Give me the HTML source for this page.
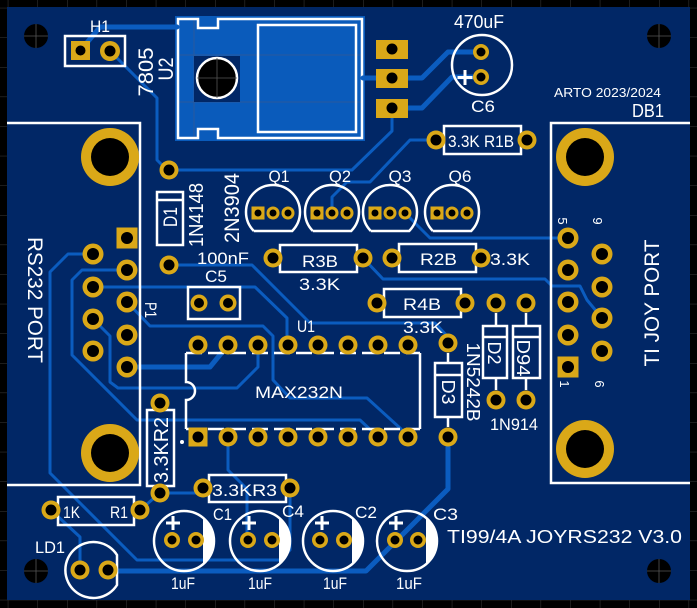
<!DOCTYPE html>
<html>
<head>
<meta charset="utf-8">
<style>
html,body{margin:0;padding:0;background:#000;}
svg{display:block;}
.t{font-family:"Liberation Sans",sans-serif;fill:#fff;}
</style>
</head>
<body>
<svg width="697" height="608" viewBox="0 0 697 608" xmlns="http://www.w3.org/2000/svg">
<defs>
<pattern id="grid" x="7.8" y="7.8" width="29.6" height="29.6" patternUnits="userSpaceOnUse">
<path d="M0 0 V29.6 M0 0 H29.6" stroke="#3a3a3a" stroke-width="1" fill="none"/>
</pattern>
</defs>
<rect width="697" height="608" fill="#000"/>
<rect width="697" height="608" fill="url(#grid)"/>
<!-- board -->
<rect x="7" y="7" width="683" height="593" fill="#012766"/>

<!-- mounting holes -->
<g fill="#000">
<circle cx="36" cy="36" r="12"/>
<circle cx="659" cy="36" r="12"/>
<circle cx="36" cy="571" r="12"/>
<circle cx="659" cy="571" r="12"/>
</g>
<g stroke="#555" stroke-width="0.8">
<path d="M24 36H48M36 24V48M647 36H671M659 24V48M24 571H48M36 559V583M647 571H671M659 559V583"/>
</g>

<!-- U2 regulator copper -->
<rect x="175" y="16" width="190" height="125" fill="#0a5bbb"/>
<g stroke="#2a5a9c" stroke-width="1" fill="none">
<path d="M178 55H362M178 102H362M194 19V138"/>
</g>
<rect x="194" y="56" width="46" height="46" fill="#012766"/>
<circle cx="217" cy="78" r="20" fill="#000" stroke="#fff" stroke-width="2.5"/>
<path d="M197 78H237M217 58V98" stroke="#555" stroke-width="0.8"/>
<path d="M178 19H198V28H218V19H362V138H218V129H198V138H178Z" fill="none" stroke="#fff" stroke-width="2.5"/>
<rect x="258" y="25" width="98" height="107" fill="none" stroke="#fff" stroke-width="2.5"/>

<!-- traces thin -->
<g fill="none" stroke="#0b5cbf" stroke-width="3" stroke-linejoin="round" stroke-linecap="round">
<polyline points="110,51 157,98 157,160 167,170 352,170 392,131 392,108"/>
<polyline points="332,213 332,197 347,182 370,182 410,140 436,140"/>
<polyline points="405,213 430,238 568,238"/>
<polyline points="363,258 383,279 545,279 552,286 580,286 587,300 602,318"/>
<polyline points="93,254 68,254 50,272 50,473 137,560 280,560 290,550 290,488"/>
<polyline points="51,510 80,537 80,570"/>
<polyline points="127,270 82,270 72,280 72,355 137,420 360,420 378,437"/>
<polyline points="93,287 255,287 287,318 287,345"/>
<polyline points="169,265 252,265 310,323 435,323 448,337"/>
<polyline points="127,302 150,326 263,326 273,336 273,380 290,398 367,398 400,428 408,437"/>
<polyline points="93,319 110,336 110,382 118,388 237,388 258,367 258,345"/>
<polyline points="228,437 228,470 247,489 247,540"/>
<polyline points="160,493 203,493 203,488"/>
<polyline points="160,493 140,510"/>
</g>
<!-- traces thick -->
<g fill="none" stroke="#0b5cbf" stroke-width="5" stroke-linejoin="round" stroke-linecap="round">
<polyline points="80,51 100,27 177,27"/>
<polyline points="363,78 422,78 448,52 481,52"/>
<polyline points="392,108 422,108 452,77 481,77"/>
<polyline points="127,367 210,367 228,345"/>
<polyline points="108,571 366,571 448,489 448,437"/>
</g>

<!-- Silkscreen outlines -->
<g fill="none" stroke="#fff" stroke-width="2.5">
<!-- H1 -->
<rect x="65" y="36" width="60" height="30"/>
<!-- P1 connector -->
<path d="M7 123H140V485H7"/>
<!-- DB1 connector -->
<path d="M690 123H551V483H690"/>
<!-- C6 -->
<circle cx="482" cy="65" r="30"/>
<!-- D1 -->
<rect x="157" y="192" width="26" height="53"/>
<path d="M157 200H183"/>
<!-- Q transistors -->
<path d="M253.8 231H292.2A27 27 0 1 0 253.8 231"/>
<path d="M312.8 231H351.2A27 27 0 1 0 312.8 231"/>
<path d="M370.8 231H409.2A27 27 0 1 0 370.8 231"/>
<path d="M432.8 231H471.2A27 27 0 1 0 432.8 231"/>
<!-- C5 -->
<rect x="188" y="287" width="52" height="32"/>
<!-- R3B R2B R4B R1B -->
<rect x="280" y="245" width="77" height="27"/>
<rect x="399" y="244" width="77" height="28"/>
<rect x="384" y="289" width="77" height="28"/>
<rect x="444" y="126" width="77" height="28"/>
<!-- D2 D94 -->
<rect x="483" y="326" width="24" height="52"/>
<path d="M483 337H507M496 313V326M496 378V390"/>
<rect x="513" y="326" width="27" height="52"/>
<path d="M513 337H540M526 313V326M526 378V390"/>
<!-- D3 -->
<rect x="435" y="363" width="27" height="54"/>
<path d="M435 375H462M448 353V363M448 417V427"/>
<!-- U1 -->
<path d="M186 353V382A9 9 0 0 1 186 400V429M420 353V429"/>
<path d="M186 353H420M186 429H420" stroke-dasharray="16 6"/>
<!-- R2 vertical -->
<rect x="147" y="410" width="27" height="76"/>
<!-- R3 -->
<rect x="209" y="475" width="77" height="27"/>
<!-- R1 -->
<rect x="58" y="497" width="76" height="28"/>
<!-- LD1 -->
<path d="M117 555A28 28 0 1 0 117 585Z"/>
<!-- caps -->
<circle cx="184" cy="541" r="30"/>
<circle cx="260" cy="541" r="30"/>
<circle cx="333" cy="541" r="30"/>
<circle cx="407" cy="541" r="30"/>
<!-- plus signs -->
<path d="M465 70V85M457.5 77.5H472.5" stroke-width="3"/>
<path d="M173 516V530M166 523H180" stroke-width="3"/>
<path d="M249 516V530M242 523H256" stroke-width="3"/>
<path d="M322 516V530M315 523H329" stroke-width="3"/>
<path d="M396 516V530M389 523H403" stroke-width="3"/>
</g>
<!-- cap crescents -->
<g fill="#fff">
<path d="M203 517.8A30 30 0 0 1 203 564.2Z"/>
<path d="M279 517.8A30 30 0 0 1 279 564.2Z"/>
<path d="M352 517.8A30 30 0 0 1 352 564.2Z"/>
<path d="M426 517.8A30 30 0 0 1 426 564.2Z"/>
<circle cx="182" cy="442" r="2"/>
</g>

<!-- Pads -->
<g fill="#daa818">
<!-- big mounting gold -->
<circle cx="110" cy="157" r="29"/>
<circle cx="110" cy="453" r="29"/>
<circle cx="585" cy="157" r="29"/>
<circle cx="585" cy="449" r="29"/>
<!-- H1 -->
<rect x="71" y="41" width="19" height="19"/>
<circle cx="110" cy="51" r="10"/>
<!-- regulator pads -->
<rect x="376" y="40" width="32" height="19"/>
<rect x="376" y="69" width="32" height="19"/>
<rect x="376" y="99" width="32" height="19"/>
<!-- C6 -->
<circle cx="481" cy="52" r="8"/>
<circle cx="481" cy="77" r="8"/>
<!-- R1B -->
<circle cx="436" cy="140" r="9.5"/>
<circle cx="527" cy="140" r="9.5"/>
<!-- pad 169,170 -->
<circle cx="169" cy="170" r="9.5"/>
<!-- Q pads -->
<rect x="251.5" y="206.5" width="13" height="13"/><circle cx="273" cy="213" r="6.5"/><circle cx="288" cy="213" r="6.5"/>
<rect x="310.5" y="206.5" width="13" height="13"/><circle cx="332" cy="213" r="6.5"/><circle cx="347" cy="213" r="6.5"/>
<rect x="368.5" y="206.5" width="13" height="13"/><circle cx="390" cy="213" r="6.5"/><circle cx="405" cy="213" r="6.5"/>
<rect x="430.5" y="206.5" width="13" height="13"/><circle cx="452" cy="213" r="6.5"/><circle cx="467" cy="213" r="6.5"/>
<!-- P1 -->
<rect x="116.5" y="227.5" width="21" height="21"/>
<circle cx="127" cy="270" r="10.5"/><circle cx="127" cy="302" r="10.5"/><circle cx="127" cy="335" r="10.5"/><circle cx="127" cy="367" r="10.5"/>
<circle cx="93" cy="254" r="10.5"/><circle cx="93" cy="287" r="10.5"/><circle cx="93" cy="319" r="10.5"/><circle cx="93" cy="351" r="10.5"/>
<!-- DB9 -->
<circle cx="568" cy="238" r="10.5"/><circle cx="568" cy="270" r="10.5"/><circle cx="568" cy="302" r="10.5"/><circle cx="568" cy="335" r="10.5"/>
<rect x="557.5" y="356.5" width="21" height="21"/>
<circle cx="602" cy="254" r="10.5"/><circle cx="602" cy="287" r="10.5"/><circle cx="602" cy="318" r="10.5"/><circle cx="602" cy="351" r="10.5"/>
<!-- C5 area -->
<circle cx="169" cy="265" r="9.5"/>
<circle cx="199" cy="303" r="8.5"/><circle cx="228" cy="303" r="8.5"/>
<!-- resistors -->
<circle cx="273" cy="258" r="9.5"/><circle cx="363" cy="258" r="9.5"/>
<circle cx="392" cy="258" r="9.5"/><circle cx="481" cy="258" r="9.5"/>
<circle cx="377" cy="303" r="9.5"/><circle cx="465" cy="303" r="9.5"/>
<circle cx="496" cy="303" r="9.5"/><circle cx="526" cy="303" r="9.5"/>
<circle cx="496" cy="400" r="9.5"/><circle cx="526" cy="400" r="9.5"/>
<circle cx="448" cy="343" r="9.5"/><circle cx="448" cy="437" r="9.5"/>
<!-- U1 -->
<circle cx="198" cy="345" r="9.5"/><circle cx="228" cy="345" r="9.5"/><circle cx="258" cy="345" r="9.5"/><circle cx="288" cy="345" r="9.5"/>
<circle cx="318" cy="345" r="9.5"/><circle cx="348" cy="345" r="9.5"/><circle cx="378" cy="345" r="9.5"/><circle cx="408" cy="345" r="9.5"/>
<rect x="188.5" y="427.5" width="19" height="19"/>
<circle cx="228" cy="437" r="9.5"/><circle cx="258" cy="437" r="9.5"/><circle cx="288" cy="437" r="9.5"/>
<circle cx="318" cy="437" r="9.5"/><circle cx="348" cy="437" r="9.5"/><circle cx="378" cy="437" r="9.5"/><circle cx="408" cy="437" r="9.5"/>
<!-- R2, R3, R1 -->
<circle cx="160" cy="403" r="9.5"/><circle cx="160" cy="493" r="9.5"/>
<circle cx="203" cy="488" r="9.5"/><circle cx="290" cy="488" r="9.5"/>
<circle cx="51" cy="510" r="9.5"/><circle cx="140" cy="510" r="9.5"/>
<!-- LD1 -->
<circle cx="80" cy="570" r="9.5"/><circle cx="108" cy="570" r="9.5"/>
<!-- caps -->
<circle cx="172" cy="540" r="8"/><circle cx="196" cy="540" r="8"/>
<circle cx="248" cy="540" r="8"/><circle cx="272" cy="540" r="8"/>
<circle cx="320" cy="540" r="8"/><circle cx="344" cy="540" r="8"/>
<circle cx="395" cy="540" r="8"/><circle cx="418" cy="540" r="8"/>
</g>

<!-- Holes -->
<g fill="#000">
<circle cx="110" cy="157" r="19"/>
<circle cx="110" cy="453" r="19"/>
<circle cx="585" cy="157" r="19"/>
<circle cx="585" cy="449" r="19"/>
<circle cx="80.5" cy="50.5" r="5"/><circle cx="110" cy="51" r="5.5"/>
<circle cx="392" cy="49" r="5.5"/><circle cx="392" cy="78" r="5.5"/><circle cx="392" cy="108" r="5.5"/>
<circle cx="481" cy="52" r="4.5"/><circle cx="481" cy="77" r="4.5"/>
<circle cx="436" cy="140" r="5.5"/><circle cx="527" cy="140" r="5.5"/>
<circle cx="169" cy="170" r="5.5"/>
<circle cx="258" cy="213" r="3.5"/><circle cx="273" cy="213" r="3.5"/><circle cx="288" cy="213" r="3.5"/>
<circle cx="317" cy="213" r="3.5"/><circle cx="332" cy="213" r="3.5"/><circle cx="347" cy="213" r="3.5"/>
<circle cx="375" cy="213" r="3.5"/><circle cx="390" cy="213" r="3.5"/><circle cx="405" cy="213" r="3.5"/>
<circle cx="437" cy="213" r="3.5"/><circle cx="452" cy="213" r="3.5"/><circle cx="467" cy="213" r="3.5"/>
<circle cx="127" cy="238" r="6"/><circle cx="127" cy="270" r="6"/><circle cx="127" cy="302" r="6"/><circle cx="127" cy="335" r="6"/><circle cx="127" cy="367" r="6"/>
<circle cx="93" cy="254" r="6"/><circle cx="93" cy="287" r="6"/><circle cx="93" cy="319" r="6"/><circle cx="93" cy="351" r="6"/>
<circle cx="568" cy="238" r="6"/><circle cx="568" cy="270" r="6"/><circle cx="568" cy="302" r="6"/><circle cx="568" cy="335" r="6"/><circle cx="568" cy="367" r="6"/>
<circle cx="602" cy="254" r="6"/><circle cx="602" cy="287" r="6"/><circle cx="602" cy="318" r="6"/><circle cx="602" cy="351" r="6"/>
<circle cx="169" cy="265" r="5.5"/>
<circle cx="199" cy="303" r="5"/><circle cx="228" cy="303" r="5"/>
<circle cx="273" cy="258" r="5.5"/><circle cx="363" cy="258" r="5.5"/>
<circle cx="392" cy="258" r="5.5"/><circle cx="481" cy="258" r="5.5"/>
<circle cx="377" cy="303" r="5.5"/><circle cx="465" cy="303" r="5.5"/>
<circle cx="496" cy="303" r="5.5"/><circle cx="526" cy="303" r="5.5"/>
<circle cx="496" cy="400" r="5.5"/><circle cx="526" cy="400" r="5.5"/>
<circle cx="448" cy="343" r="5.5"/><circle cx="448" cy="437" r="5.5"/>
<circle cx="198" cy="345" r="5.5"/><circle cx="228" cy="345" r="5.5"/><circle cx="258" cy="345" r="5.5"/><circle cx="288" cy="345" r="5.5"/>
<circle cx="318" cy="345" r="5.5"/><circle cx="348" cy="345" r="5.5"/><circle cx="378" cy="345" r="5.5"/><circle cx="408" cy="345" r="5.5"/>
<circle cx="198" cy="437" r="5.5"/><circle cx="228" cy="437" r="5.5"/><circle cx="258" cy="437" r="5.5"/><circle cx="288" cy="437" r="5.5"/>
<circle cx="318" cy="437" r="5.5"/><circle cx="348" cy="437" r="5.5"/><circle cx="378" cy="437" r="5.5"/><circle cx="408" cy="437" r="5.5"/>
<circle cx="160" cy="403" r="5.5"/><circle cx="160" cy="493" r="5.5"/>
<circle cx="203" cy="488" r="5.5"/><circle cx="290" cy="488" r="5.5"/>
<circle cx="51" cy="510" r="5.5"/><circle cx="140" cy="510" r="5.5"/>
<circle cx="80" cy="570" r="5.5"/><circle cx="108" cy="570" r="5.5"/>
<circle cx="172" cy="540" r="4.5"/><circle cx="196" cy="540" r="4.5"/>
<circle cx="248" cy="540" r="4.5"/><circle cx="272" cy="540" r="4.5"/>
<circle cx="320" cy="540" r="4.5"/><circle cx="344" cy="540" r="4.5"/>
<circle cx="395" cy="540" r="4.5"/><circle cx="418" cy="540" r="4.5"/>
</g>

<!-- Texts -->
<g class="t">
<text x="100" y="32" font-size="17" text-anchor="middle" textLength="20" lengthAdjust="spacingAndGlyphs">H1</text>
<text transform="translate(153,72) rotate(-90)" font-size="21" text-anchor="middle" textLength="49" lengthAdjust="spacingAndGlyphs">7805</text>
<text transform="translate(173,69) rotate(-90)" font-size="21" text-anchor="middle" textLength="23" lengthAdjust="spacingAndGlyphs">U2</text>
<text x="479" y="28" font-size="18" text-anchor="middle" textLength="50" lengthAdjust="spacingAndGlyphs">470uF</text>
<text x="483" y="112" font-size="17" text-anchor="middle" textLength="24" lengthAdjust="spacingAndGlyphs">C6</text>
<text x="554" y="97" font-size="12.5" textLength="107" lengthAdjust="spacingAndGlyphs">ARTO 2023/2024</text>
<text x="632" y="117" font-size="18" textLength="32" lengthAdjust="spacingAndGlyphs">DB1</text>
<text x="448" y="147" font-size="17" textLength="66" lengthAdjust="spacingAndGlyphs">3.3K R1B</text>
<text x="279" y="182" font-size="17" text-anchor="middle" textLength="21" lengthAdjust="spacingAndGlyphs">Q1</text>
<text x="340" y="182" font-size="17" text-anchor="middle" textLength="22" lengthAdjust="spacingAndGlyphs">Q2</text>
<text x="400" y="182" font-size="17" text-anchor="middle" textLength="23" lengthAdjust="spacingAndGlyphs">Q3</text>
<text x="460" y="182" font-size="17" text-anchor="middle" textLength="23" lengthAdjust="spacingAndGlyphs">Q6</text>
<text transform="translate(177,217) rotate(-90)" font-size="19" text-anchor="middle" textLength="20" lengthAdjust="spacingAndGlyphs">D1</text>
<text transform="translate(203,215) rotate(-90)" font-size="20" text-anchor="middle" textLength="64" lengthAdjust="spacingAndGlyphs">1N4148</text>
<text transform="translate(239,208) rotate(-90)" font-size="21" text-anchor="middle" textLength="70" lengthAdjust="spacingAndGlyphs">2N3904</text>
<text x="197" y="264" font-size="17" textLength="52" lengthAdjust="spacingAndGlyphs">100nF</text>
<text x="205" y="282" font-size="17" textLength="22" lengthAdjust="spacingAndGlyphs">C5</text>
<text x="302" y="267" font-size="17" textLength="36" lengthAdjust="spacingAndGlyphs">R3B</text>
<text x="299" y="290" font-size="17" textLength="41" lengthAdjust="spacingAndGlyphs">3.3K</text>
<text x="420" y="265" font-size="17" textLength="37" lengthAdjust="spacingAndGlyphs">R2B</text>
<text x="490" y="265" font-size="17" textLength="40" lengthAdjust="spacingAndGlyphs">3.3K</text>
<text x="403" y="310" font-size="17" textLength="38" lengthAdjust="spacingAndGlyphs">R4B</text>
<text x="403" y="333" font-size="17" textLength="40" lengthAdjust="spacingAndGlyphs">3.3K</text>
<text transform="translate(28,300) rotate(90)" font-size="21" text-anchor="middle" textLength="126" lengthAdjust="spacingAndGlyphs">RS232 PORT</text>
<text transform="translate(145,310) rotate(90)" font-size="17" text-anchor="middle" textLength="16" lengthAdjust="spacingAndGlyphs">P1</text>
<text transform="translate(659,303) rotate(-90)" font-size="21" text-anchor="middle" textLength="127" lengthAdjust="spacingAndGlyphs">TI JOY PORT</text>
<text transform="translate(558,221) rotate(90)" font-size="13" text-anchor="middle">5</text>
<text transform="translate(593,221) rotate(90)" font-size="13" text-anchor="middle">9</text>
<text transform="translate(560,384) rotate(90)" font-size="13" text-anchor="middle">1</text>
<text transform="translate(595,384) rotate(90)" font-size="13" text-anchor="middle">6</text>
<text transform="translate(488,353) rotate(90)" font-size="18" text-anchor="middle" textLength="23" lengthAdjust="spacingAndGlyphs">D2</text>
<text transform="translate(517,358) rotate(90)" font-size="18" text-anchor="middle" textLength="37" lengthAdjust="spacingAndGlyphs">D94</text>
<text transform="translate(442,392) rotate(90)" font-size="18" text-anchor="middle" textLength="25" lengthAdjust="spacingAndGlyphs">D3</text>
<text transform="translate(467,382) rotate(90)" font-size="18" text-anchor="middle" textLength="79" lengthAdjust="spacingAndGlyphs">1N5242B</text>
<text x="490" y="430" font-size="17" textLength="48" lengthAdjust="spacingAndGlyphs">1N914</text>
<text x="297" y="332" font-size="17" textLength="18" lengthAdjust="spacingAndGlyphs">U1</text>
<text x="255" y="398" font-size="17" textLength="88" lengthAdjust="spacingAndGlyphs">MAX232N</text>
<text transform="translate(168,450) rotate(-90)" font-size="20" text-anchor="middle" textLength="66" lengthAdjust="spacingAndGlyphs">3.3KR2</text>
<text x="212" y="496" font-size="17" textLength="65" lengthAdjust="spacingAndGlyphs">3.3KR3</text>
<text x="63" y="518" font-size="17" textLength="17" lengthAdjust="spacingAndGlyphs">1K</text>
<text x="110" y="518" font-size="17" textLength="18" lengthAdjust="spacingAndGlyphs">R1</text>
<text x="35" y="553" font-size="17" textLength="30" lengthAdjust="spacingAndGlyphs">LD1</text>
<text x="213" y="520" font-size="17" textLength="19" lengthAdjust="spacingAndGlyphs">C1</text>
<text x="282" y="517" font-size="17" textLength="22" lengthAdjust="spacingAndGlyphs">C4</text>
<text x="355" y="518" font-size="17" textLength="22" lengthAdjust="spacingAndGlyphs">C2</text>
<text x="433" y="520" font-size="17" textLength="25" lengthAdjust="spacingAndGlyphs">C3</text>
<text x="183" y="589" font-size="17" text-anchor="middle" textLength="24" lengthAdjust="spacingAndGlyphs">1uF</text>
<text x="260" y="589" font-size="17" text-anchor="middle" textLength="24" lengthAdjust="spacingAndGlyphs">1uF</text>
<text x="335" y="589" font-size="17" text-anchor="middle" textLength="24" lengthAdjust="spacingAndGlyphs">1uF</text>
<text x="409" y="589" font-size="17" text-anchor="middle" textLength="26" lengthAdjust="spacingAndGlyphs">1uF</text>
<text x="447" y="543" font-size="18" textLength="235" lengthAdjust="spacingAndGlyphs">TI99/4A JOYRS232 V3.0</text>
</g>
</svg>
</body>
</html>
